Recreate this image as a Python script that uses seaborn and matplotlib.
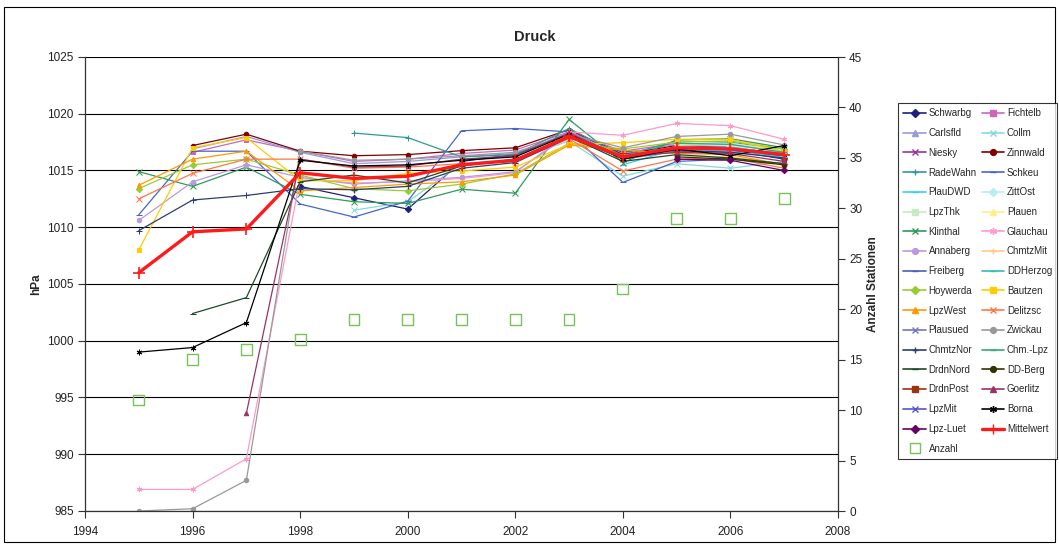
import numpy as np
import pandas as pd
import matplotlib
matplotlib.use("Agg")
import matplotlib.pyplot as plt
import seaborn as sns
from matplotlib.lines import Line2D
from matplotlib.patches import Rectangle

nan = np.nan
years = [1995, 1996, 1997, 1998, 1999, 2000, 2001, 2002, 2003, 2004, 2005, 2006, 2007]

Schwarbg = [nan, nan, nan, 1013.6, 1012.6, 1011.6, 1015.8, 1016.4, 1018.3, 1016.6, 1017.0, 1016.8, 1016.0]
Fichtelb = [nan, 1016.6, 1017.7, 1016.7, 1015.8, 1016.0, 1016.5, 1016.8, 1018.4, 1016.7, 1017.4, 1017.3, 1016.6]
Carlsfld = [nan, 1016.9, 1018.0, 1016.6, 1015.6, 1015.8, 1016.2, 1016.5, 1018.3, 1016.5, 1017.3, 1017.1, 1016.4]
Collm = [nan, nan, nan, nan, 1011.5, 1012.25, 1015.6, 1016.0, 1017.6, 1014.5, 1015.6, 1015.2, 1015.8]
Niesky = [nan, nan, nan, nan, nan, nan, nan, nan, nan, 1016.0, 1016.7, 1016.6, 1016.3]
Zinnwald = [nan, 1017.2, 1018.2, 1016.7, 1016.3, 1016.4, 1016.75, 1017.0, 1018.6, 1016.4, 1017.2, 1017.0, 1016.2]
RadeWahn = [nan, nan, nan, nan, 1018.3, 1017.9, 1016.2, 1016.4, 1018.7, 1016.3, 1017.6, 1017.5, 1016.8]
Schkeu = [1011.1, 1016.7, 1016.7, 1012.05, 1010.9, 1012.3, 1018.5, 1018.7, 1018.4, 1013.95, 1015.8, 1016.0, 1015.6]
PlauDWD = [nan, nan, nan, nan, nan, nan, nan, nan, nan, 1015.5, 1016.9, 1016.7, 1016.2]
ZittOst = [nan, nan, nan, nan, nan, nan, nan, nan, nan, nan, 1017.3, 1017.2, 1016.7]
LpzThk = [nan, nan, nan, nan, nan, nan, nan, nan, nan, nan, 1017.2, 1017.4, 1016.8]
Plauen = [nan, nan, nan, nan, nan, nan, nan, nan, nan, nan, 1017.6, 1017.7, 1017.0]
Klinthal = [1014.9, 1013.6, 1015.3, 1012.9, 1012.25, 1012.1, 1013.35, 1013.0, 1019.5, 1015.7, 1017.7, 1017.8, 1017.0]
Glauchau = [986.9, 986.9, 989.6, 1014.3, 1013.9, 1014.0, 1014.3, 1014.8, 1018.4, 1018.1, 1019.15, 1018.95, 1017.75]
Annaberg = [1010.6, 1014.0, 1015.5, 1014.4, 1013.8, 1014.1, 1014.4, 1014.9, 1018.1, 1016.3, 1017.1, 1017.0, 1016.5]
ChmtzMit = [nan, nan, nan, nan, nan, nan, nan, nan, nan, nan, 1016.3, 1016.2, 1015.6]
Freiberg = [nan] * 13
DDHerzog = [nan, nan, nan, nan, nan, nan, nan, nan, nan, 1016.2, 1017.0, 1017.0, 1016.5]
Hoywerda = [1013.4, 1015.5, 1016.0, 1014.6, 1013.4, 1013.2, 1013.8, 1014.7, 1017.4, 1016.9, 1017.5, 1017.6, 1016.9]
Bautzen = [1008.0, 1017.0, 1017.9, 1014.1, 1014.1, 1014.75, 1014.95, 1015.3, 1017.3, 1017.45, 1017.75, 1017.75, 1016.65]
LpzWest = [1013.7, 1016.0, 1016.7, 1013.2, 1013.5, 1013.8, 1014.0, 1014.6, 1017.25, 1016.8, 1016.5, 1016.4, 1015.5]
Delitzsc = [1012.5, 1014.75, 1016.0, 1016.0, 1015.2, 1015.3, 1015.6, 1015.8, 1017.8, 1014.95, 1016.0, 1016.1, 1015.2]
Plausued = [nan, nan, nan, nan, nan, nan, nan, nan, nan, nan, nan, nan, 1016.3]
Zwickau = [985.0, 985.2, 987.7, 1016.7, 1015.9, 1016.0, 1016.3, 1016.6, 1018.2, 1017.0, 1018.0, 1018.2, 1017.25]
ChmtzNor = [1009.7, 1012.4, 1012.8, 1013.4, 1013.3, 1013.6, 1015.2, 1015.7, 1017.9, 1016.1, 1016.8, 1016.6, 1016.1]
ChmLpz = [nan, nan, nan, nan, nan, nan, nan, nan, nan, nan, 1017.4, 1017.3, 1016.6]
DrdnNord = [nan, 1002.4, 1003.8, 1014.0, 1014.6, 1013.9, 1015.4, 1016.0, 1018.0, 1015.8, 1016.4, 1016.1, 1015.6]
DDBerg = [nan, nan, nan, nan, nan, nan, nan, nan, nan, nan, 1016.2, 1016.0, 1015.5]
DrdnPost = [nan, nan, nan, nan, nan, nan, nan, nan, nan, nan, nan, nan, 1015.9]
Goerlitz = [nan, nan, 993.6, 1016.0, 1015.3, 1015.4, 1016.0, 1016.3, 1018.3, 1016.2, 1016.6, 1016.5, 1015.8]
LpzMit = [nan] * 13
Borna = [999.0, 999.4, 1001.6, 1015.9, 1015.4, 1015.5, 1015.9, 1016.2, 1018.2, 1016.0, 1016.9, 1016.3, 1017.2]
LpzLuet = [nan, nan, nan, nan, nan, nan, nan, nan, nan, nan, 1016.0, 1015.9, 1015.0]
Mittelwert = [1006.0, 1009.6, 1009.85, 1014.8, 1014.3, 1014.5, 1015.5, 1015.9, 1018.0, 1016.2, 1017.0, 1016.9, 1016.4]
Anzahl = [11, 15, 16, 17, 19, 19, 19, 19, 19, 22, 29, 29, 31]

ASTER = (6, 2, 0)
# (name, values, color, marker)
stations = [
    ("Schwarbg", Schwarbg, "#1f1f80", "D"),
    ("Fichtelb", Fichtelb, "#cc66bb", "s"),
    ("Carlsfld", Carlsfld, "#9999dd", "^"),
    ("Collm", Collm, "#88d8e0", "x"),
    ("Niesky", Niesky, "#993399", "x"),
    ("Zinnwald", Zinnwald, "#800000", "o"),
    ("RadeWahn", RadeWahn, "#2e9a96", "+"),
    ("Schkeu", Schkeu, "#4466cc", "_"),
    ("PlauDWD", PlauDWD, "#33ccff", "_"),
    ("ZittOst", ZittOst, "#b8eef0", "D"),
    ("LpzThk", LpzThk, "#c8eac0", "s"),
    ("Plauen", Plauen, "#ffee88", "^"),
    ("Klinthal", Klinthal, "#2f9a5a", "x"),
    ("Glauchau", Glauchau, "#ff99cc", ASTER),
    ("Annaberg", Annaberg, "#bb99dd", "o"),
    ("ChmtzMit", ChmtzMit, "#ffcc88", "+"),
    ("Freiberg", Freiberg, "#4a5fb5", "_"),
    ("DDHerzog", DDHerzog, "#33bbbb", "_"),
    ("Hoywerda", Hoywerda, "#99cc33", "D"),
    ("Bautzen", Bautzen, "#ffcc00", "s"),
    ("LpzWest", LpzWest, "#ff9900", "^"),
    ("Delitzsc", Delitzsc, "#ff7744", "x"),
    ("Plausued", Plausued, "#7777bb", "x"),
    ("Zwickau", Zwickau, "#999999", "o"),
    ("ChmtzNor", ChmtzNor, "#2a3f6f", "+"),
    ("Chm.-Lpz", ChmLpz, "#33aa77", "_"),
    ("DrdnNord", DrdnNord, "#1f4a2a", "_"),
    ("DD-Berg", DDBerg, "#333300", "o"),
    ("DrdnPost", DrdnPost, "#993311", "s"),
    ("Goerlitz", Goerlitz, "#993366", "^"),
    ("LpzMit", LpzMit, "#5555cc", "x"),
    ("Borna", Borna, "#000000", ASTER),
    ("Lpz-Luet", LpzLuet, "#660066", "D"),
]

sns.set_style("white")
plt.rcParams["font.family"] = ["Liberation Sans", "DejaVu Sans"]

W, H = 1059, 544
fig = plt.figure(figsize=(W / 100, H / 100), dpi=100)
ax = fig.add_axes([85 / W, 1 - 511 / H, (838 - 85) / W, (511 - 57) / H])
ax2 = ax.twinx()

handles = {}
for name, vals, col, mk in stations:
    df = pd.DataFrame({"Jahr": years, "hPa": vals}).dropna()
    ms = 4 if mk in ("x", "+", "_", ASTER) else 3.2
    if len(df) > 0:
        sns.lineplot(data=df, x="Jahr", y="hPa", ax=ax, color=col, marker=mk,
                     markersize=ms, markeredgecolor=col, linewidth=0.9,
                     errorbar=None, legend=False, sort=True)
    handles[name] = Line2D([], [], color=col, marker=mk, markersize=ms + 1,
                           markeredgecolor=col, linewidth=1.2)

dfm = pd.DataFrame({"Jahr": years, "hPa": Mittelwert})
sns.lineplot(data=dfm, x="Jahr", y="hPa", ax=ax, color="#ff1a1a", marker="+",
             markersize=9, markeredgewidth=1.2, markeredgecolor="#ff1a1a",
             linewidth=2.4, errorbar=None, legend=False)
handles["Mittelwert"] = Line2D([], [], color="#ff1a1a", marker="+", markersize=7,
                               markeredgecolor="#ff1a1a", linewidth=2.4)

dfa = pd.DataFrame({"Jahr": years, "Anzahl": Anzahl})
sns.scatterplot(data=dfa, x="Jahr", y="Anzahl", ax=ax2, marker="s", s=60,
                facecolor="none", edgecolor="#77c35a", linewidth=1.0, legend=False)
handles["Anzahl"] = Line2D([], [], linestyle="none", marker="s", markersize=7,
                           markerfacecolor="none", markeredgecolor="#77c35a")

ax.set_xlim(1994, 2008)
ax.set_ylim(985, 1025)
ax2.set_ylim(0, 45)
ax.set_xticks(range(1994, 2009, 2))
ax.set_yticks(range(985, 1026, 5))
ax2.set_yticks(range(0, 46, 5))

ax.yaxis.grid(True, color="black", linewidth=0.8)
ax.xaxis.grid(False)
ax2.grid(False)
ax.set_axisbelow(True)

for a in (ax, ax2):
    for s in a.spines.values():
        s.set_visible(False)
ax.spines["left"].set_visible(True)
ax.spines["bottom"].set_visible(True)
ax2.spines["right"].set_visible(True)
for s in (ax.spines["left"], ax.spines["bottom"], ax2.spines["right"]):
    s.set_color("#333333")
    s.set_linewidth(0.9)

ax.tick_params(axis="both", which="major", direction="out", length=5, width=0.8,
               color="#333333", labelsize=8.5, labelcolor="#222222", pad=3,
               left=True, bottom=True)
ax.tick_params(axis="x", pad=6)
ax2.tick_params(axis="y", direction="out", length=5, width=0.8, color="#333333",
                labelsize=8.5, labelcolor="#222222", right=True, pad=3)

ax.set_xlabel("")
ax.set_ylabel("hPa", fontsize=8.5, fontweight="bold", labelpad=4)
ax2.set_ylabel("Anzahl Stationen", fontsize=8.5, fontweight="bold", labelpad=3)

fig.text(0.505, 1 - 37 / H, "Druck", ha="center", va="center", fontsize=10.5,
         fontweight="bold")

order = ["Schwarbg", "Carlsfld", "Niesky", "RadeWahn", "PlauDWD", "LpzThk",
         "Klinthal", "Annaberg", "Freiberg", "Hoywerda", "LpzWest", "Plausued",
         "ChmtzNor", "DrdnNord", "DrdnPost", "LpzMit", "Lpz-Luet", "Anzahl",
         "Fichtelb", "Collm", "Zinnwald", "Schkeu", "ZittOst", "Plauen",
         "Glauchau", "ChmtzMit", "DDHerzog", "Bautzen", "Delitzsc", "Zwickau",
         "Chm.-Lpz", "DD-Berg", "Goerlitz", "Borna", "Mittelwert"]
leg = fig.legend([handles[n] for n in order], order, loc="upper left",
                 bbox_to_anchor=(898 / W, 1 - 103 / H), ncol=2, frameon=True,
                 fancybox=False, edgecolor="black", fontsize=7,
                 handlelength=2.3, handletextpad=0.3, columnspacing=0.5,
                 labelspacing=1.0, borderpad=0.55, borderaxespad=0)
leg.get_frame().set_linewidth(0.8)

fig.patches.append(Rectangle((4 / W, 2 / H), (W - 8) / W, (H - 9) / H,
                             transform=fig.transFigure, fill=False,
                             edgecolor="black", linewidth=0.8))

fig.savefig("out.png", dpi=100)
